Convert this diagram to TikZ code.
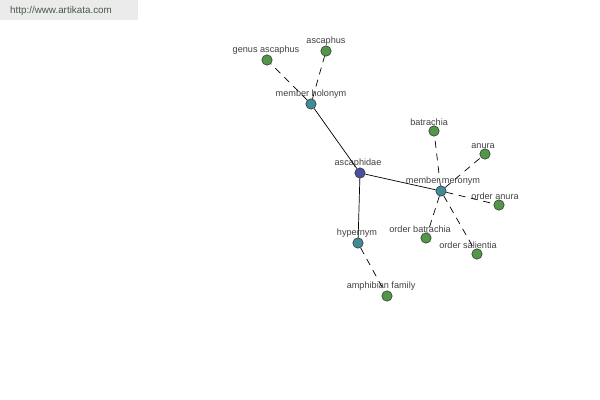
\documentclass[tikz,border=0pt]{standalone}
\usepackage{fontspec}
\setmainfont{Liberation Sans}
\usepackage{xcolor}
\usetikzlibrary{positioning}
\definecolor{rootblue}{RGB}{72,80,160}
\definecolor{relteal}{RGB}{62,140,150}
\definecolor{leafgreen}{RGB}{82,150,72}
\definecolor{marktext}{RGB}{70,90,70}
\begin{document}
\begin{tikzpicture}[
    x=0.025cm, y=-0.025cm,
    word/.style 2 args={circle, draw=black!80, line width=0.4pt, inner sep=0pt, minimum size=0.26cm,
        label={[font=\fontsize{6.5}{7}\selectfont, text=black!75, inner sep=1pt, label distance=-1pt, xshift=#2]above:#1}},
    root/.style 2 args={word={#1}{#2}, fill=rootblue},
    rel/.style 2 args={word={#1}{#2}, fill=relteal},
    leaf/.style 2 args={word={#1}{#2}, fill=leafgreen},
    link/.style={black, line width=0.5pt},
    sublink/.style={black, line width=0.5pt, dash pattern=on 5pt off 4pt},
]
\useasboundingbox (0,0) rectangle (600,400);
\fill[black!8] (0,0) rectangle (138,20);
\node[font=\fontsize{7}{8}\selectfont, text=marktext] (site) at (61,11) {http://www.artikata.com};

\node[root={ascaphidae}{-1.4pt}] (ascaphidae) at (360,173) {};
\node[rel={member holonym}{0pt}] (holonym) at (311,104) {};
\node[rel={member meronym}{1.4pt}] (meronym) at (441,191) {};
\node[rel={hypernym}{-0.7pt}] (hypernym) at (358,243) {};

\node[leaf={genus ascaphus}{-0.7pt}] (genus) at (267,60) {};
\node[leaf={ascaphus}{0pt}] (ascaphus) at (326,51) {};
\node[leaf={batrachia}{-3.5pt}] (batrachia) at (434,131) {};
\node[leaf={anura}{-1.4pt}] (anura) at (485,154) {};
\node[leaf={order anura}{-2.8pt}] (ordanura) at (499,205) {};
\node[leaf={order batrachia}{-4.2pt}] (ordbatrachia) at (426,238) {};
\node[leaf={order salientia}{-6.4pt}] (ordsalientia) at (477,254) {};
\node[leaf={amphibian family}{-4.2pt}] (amphibian) at (387,296) {};

\draw[link] (ascaphidae) -- (holonym);
\draw[link] (ascaphidae) -- (meronym);
\draw[link] (ascaphidae) -- (hypernym);

\draw[sublink] (holonym) -- (genus);
\draw[sublink] (holonym) -- (ascaphus);
\draw[sublink] (meronym) -- (batrachia);
\draw[sublink] (meronym) -- (anura);
\draw[sublink] (meronym) -- (ordanura);
\draw[sublink] (meronym) -- (ordbatrachia);
\draw[sublink] (meronym) -- (ordsalientia);
\draw[sublink] (hypernym) -- (amphibian);
\end{tikzpicture}
\end{document}
